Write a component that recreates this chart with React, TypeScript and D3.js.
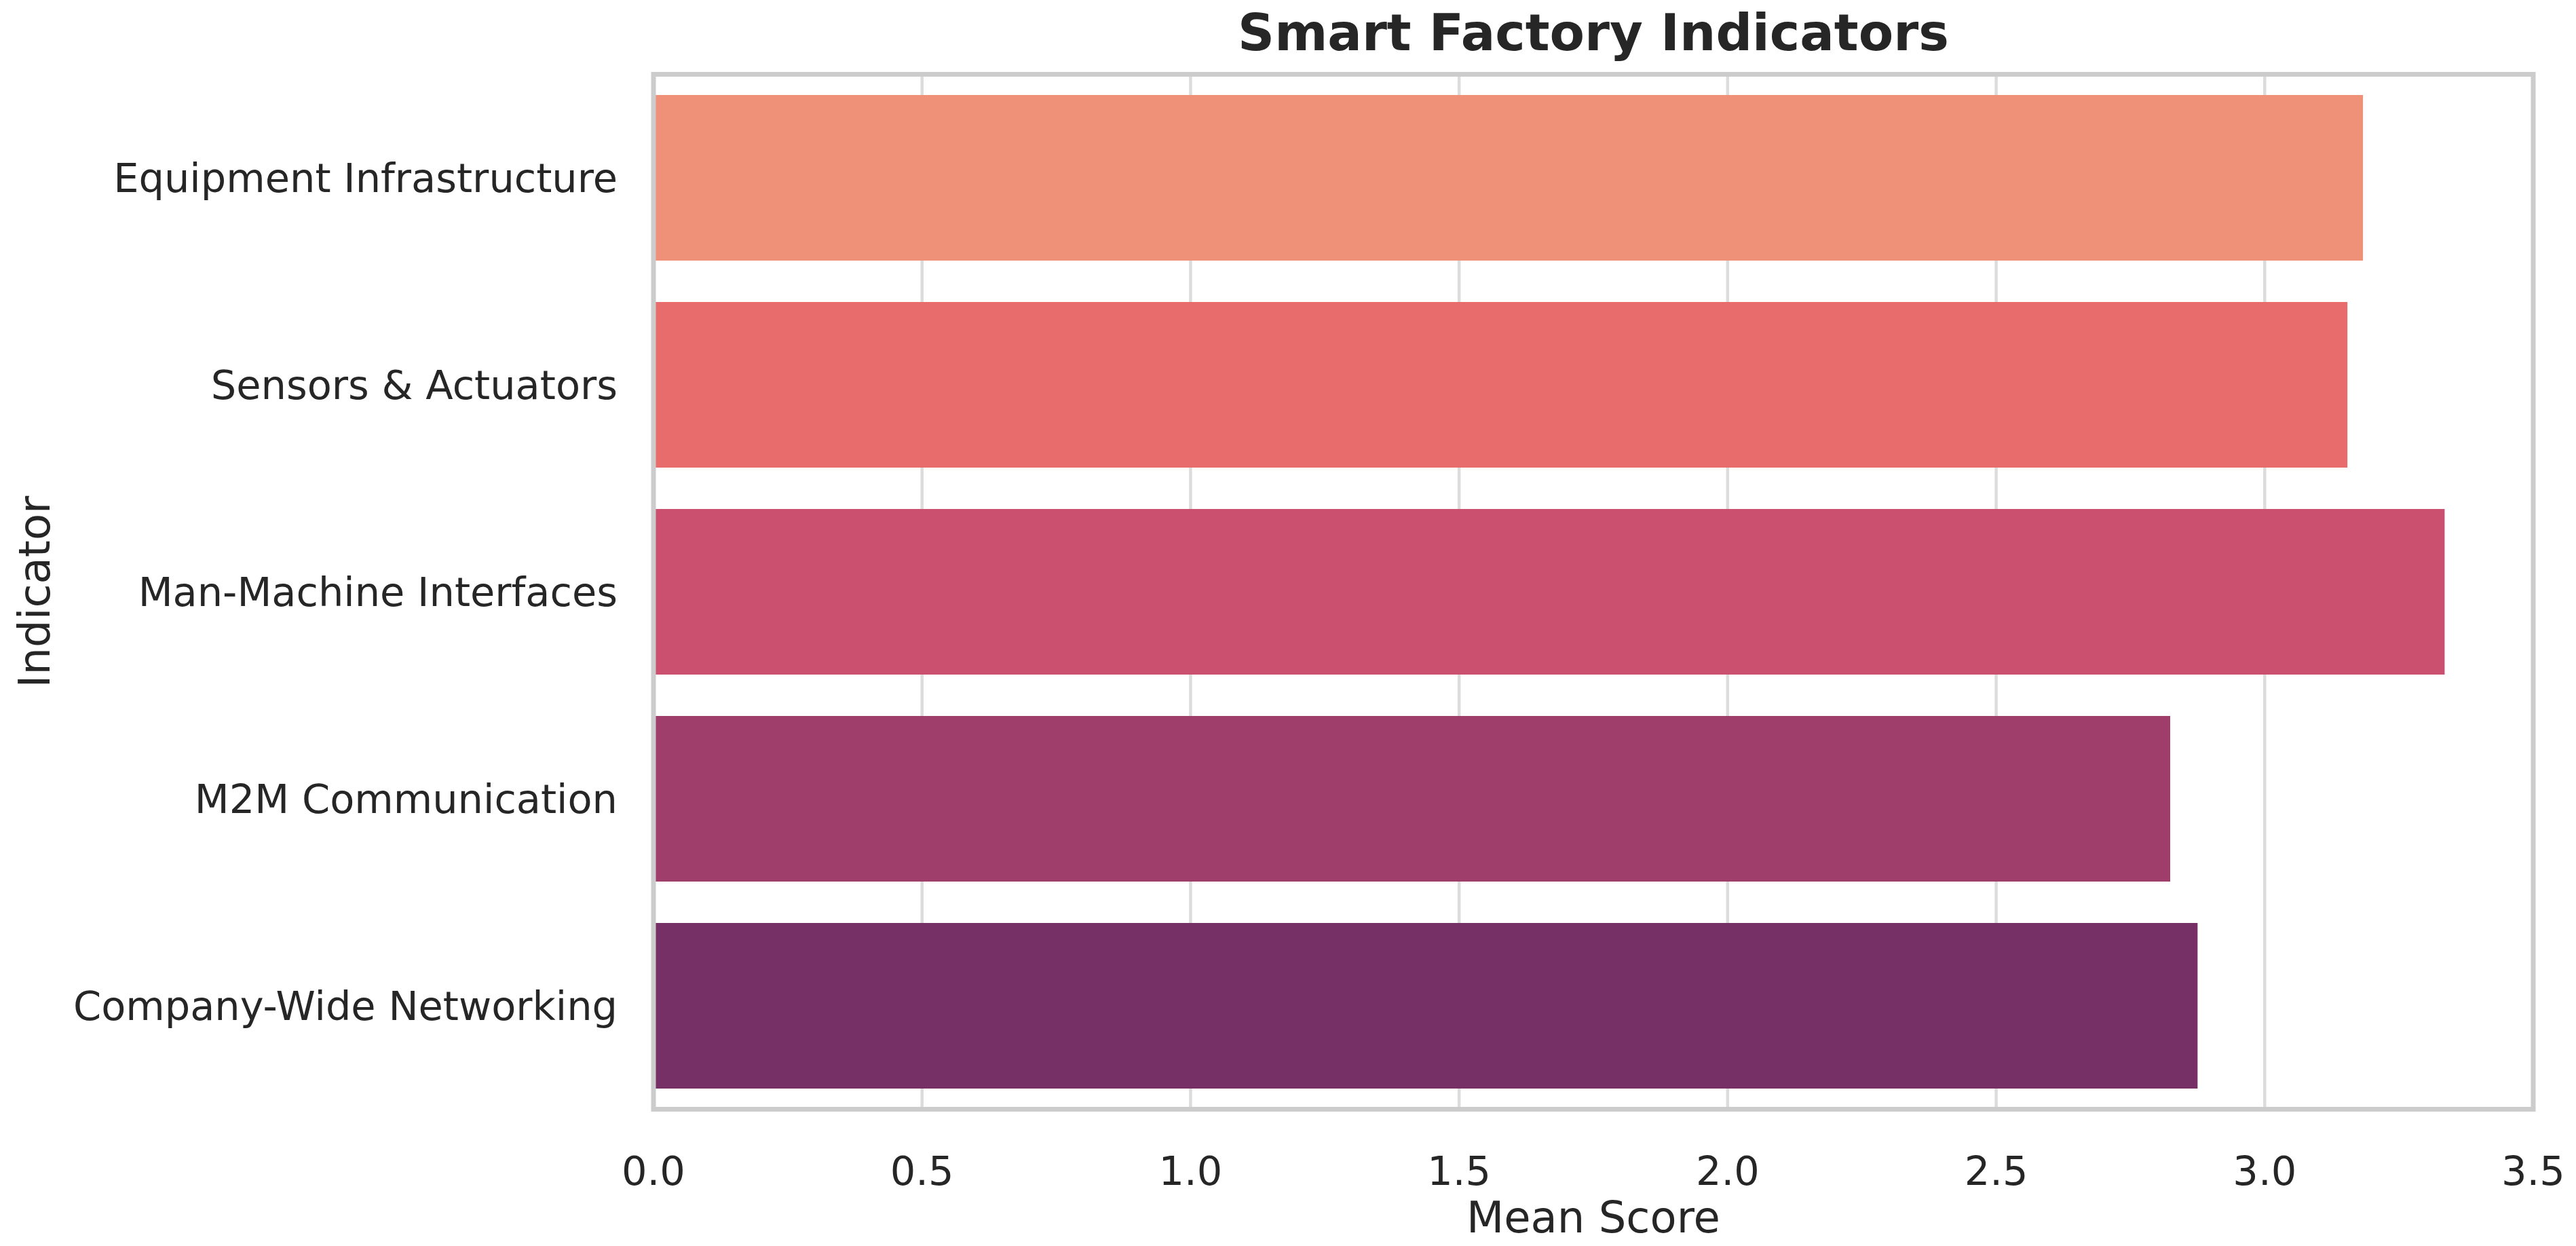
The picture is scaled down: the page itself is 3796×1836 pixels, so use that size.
import React from "react";
import * as d3 from "d3";

const categories = [
  "Equipment Infrastructure",
  "Sensors & Actuators",
  "Man-Machine Interfaces",
  "M2M Communication",
  "Company-Wide Networking",
];
const values = [3.183, 3.154, 3.335, 2.824, 2.875];
const colors = ["#EF9078", "#E86C6B", "#CB506F", "#A03E6B", "#763065"];
const xTicks = [0, 0.5, 1.0, 1.5, 2.0, 2.5, 3.0, 3.5];

const W = 3796;
const H = 1836;
const M = { left: 963, right: 3733, top: 109.5, bottom: 1634.5 };
const FONT = "'DejaVu Sans', sans-serif";

export default function App() {
  const x = d3.scaleLinear().domain([0, 3.5]).range([M.left, M.right]);
  const y = d3
    .scaleBand<string>()
    .domain(categories)
    .range([M.top, M.bottom])
    .paddingInner(0.2)
    .paddingOuter(0.1);

  return (
    <svg
      width={W}
      height={H}
      style={{ position: "absolute", left: 0, top: 0, background: "#fff" }}
      fontFamily={FONT}
    >
      <rect x={0} y={0} width={W} height={H} fill="#fff" />
      {xTicks.map((t) => (
        <line
          key={"g" + t}
          x1={x(t)}
          x2={x(t)}
          y1={M.top}
          y2={M.bottom}
          stroke="#dcdcdc"
          strokeWidth={4.5}
        />
      ))}
      {categories.map((c, i) => (
        <rect
          key={c}
          x={x(0)}
          y={y(c)!}
          width={x(values[i]) - x(0)}
          height={y.bandwidth()}
          fill={colors[i]}
        />
      ))}
      <rect
        x={M.left}
        y={M.top}
        width={M.right - M.left}
        height={M.bottom - M.top}
        fill="none"
        stroke="#cccccc"
        strokeWidth={7}
      />
      {xTicks.map((t) => (
        <text
          key={"t" + t}
          x={x(t)}
          y={1746}
          textAnchor="middle"
          fontSize={59}
          fill="#262626"
        >
          {d3.format(".1f")(t)}
        </text>
      ))}
      {categories.map((c) => (
        <text
          key={"l" + c}
          x={910}
          y={y(c)! + y.bandwidth() / 2}
          dy="0.36em"
          textAnchor="end"
          fontSize={59}
          fill="#262626"
        >
          {c}
        </text>
      ))}
      <text
        x={(M.left + M.right) / 2}
        y={1816}
        textAnchor="middle"
        fontSize={64}
        fill="#262626"
      >
        Mean Score
      </text>
      <text
        transform={`translate(73, ${(M.top + M.bottom) / 2}) rotate(-90)`}
        textAnchor="middle"
        fontSize={64}
        fill="#262626"
      >
        Indicator
      </text>
      <text
        x={(M.left + M.right) / 2}
        y={74}
        textAnchor="middle"
        fontSize={75}
        fontWeight="bold"
        fill="#262626"
      >
        Smart Factory Indicators
      </text>
    </svg>
  );
}
